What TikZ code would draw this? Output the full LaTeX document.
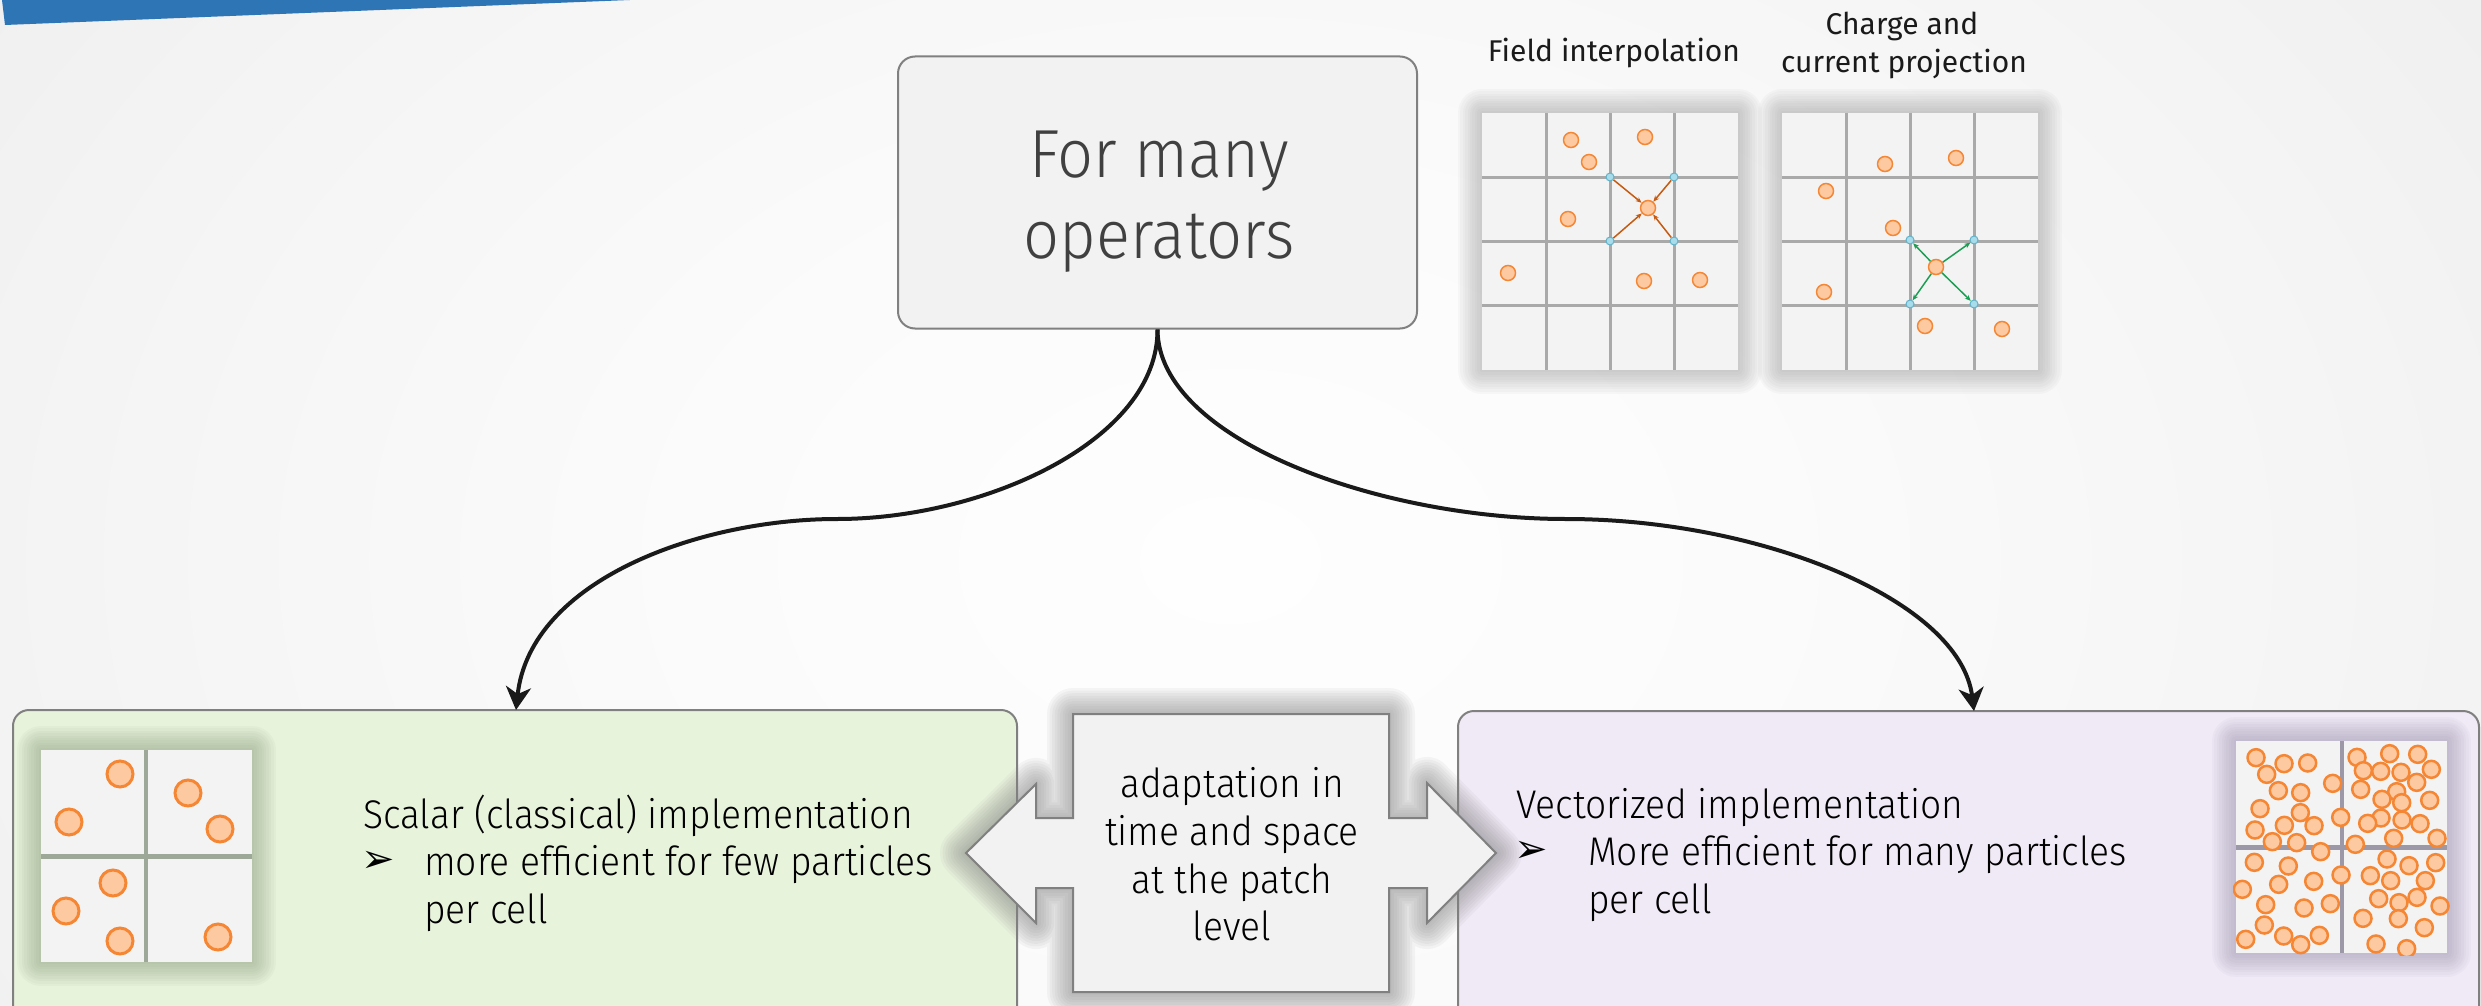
\documentclass[tikz,border=0pt]{standalone}
\usepackage{fontspec}
\setmainfont{Fira Sans Light}[FakeStretch=0.93]
\newfontfamily\capfont{Fira Sans}
\newfontfamily\dingfont{DejaVu Sans}
\usetikzlibrary{arrows.meta}

\definecolor{bg0}{HTML}{FEFEFE}
\definecolor{bg1}{HTML}{FBFBFB}
\definecolor{bg2}{HTML}{F5F5F5}
\definecolor{bg3}{HTML}{EEEEEE}
\definecolor{bg4}{HTML}{E5E5E5}
\definecolor{bg5}{HTML}{E2E2E2}
\definecolor{bandblue}{HTML}{2E75B6}
\definecolor{boxline}{HTML}{808080}
\definecolor{boxfill}{HTML}{F2F2F2}
\definecolor{greenfill}{HTML}{E8F3DC}
\definecolor{violetfill}{HTML}{F0E9F6}
\definecolor{cellfill}{HTML}{F3F3F3}
\definecolor{gridline}{HTML}{A9A9A9}
\definecolor{porange}{HTML}{F58634}
\definecolor{plight}{HTML}{FDC9A1}
\definecolor{nodeblue}{HTML}{A8DCEA}
\definecolor{nodeblueline}{HTML}{62B2C9}
\definecolor{gathercol}{HTML}{C55A11}
\definecolor{depositcol}{HTML}{1E9E55}
\definecolor{curvecol}{HTML}{1A1A1A}
\definecolor{opstext}{HTML}{404040}
\definecolor{greyglow}{HTML}{808080}
\definecolor{greenglow}{HTML}{7F9470}
\definecolor{violetglow}{HTML}{8C84A0}
\definecolor{greensplit}{HTML}{9EA898}
\definecolor{violetsplit}{HTML}{9C98A8}

% soft backdrop, light in the middle, grey at the edges
\pgfdeclareradialshading{backdrop}{\pgfpoint{0bp}{0bp}}{%
  color(0bp)=(bg0); color(8bp)=(bg1); color(16bp)=(bg2);
  color(24bp)=(bg3); color(36bp)=(bg4); color(50bp)=(bg5)}

% blurred halo drawn as stacked translucent strokes along a path
\newcommand\softglow[4]{%
  \foreach \gk in {1,...,10}{%
    \draw[#1, line width={2*#2*\gk/10}, draw opacity=#3, line join=round] #4;}}

\tikzset{
  opsbox/.style={draw=boxline, fill=boxfill, line width=2, rounded corners=17,
    minimum width=519, minimum height=272, inner sep=0},
  greenbox/.style={draw=boxline, fill=greenfill, line width=2, rounded corners=16,
    minimum width=1004, minimum height=330, inner sep=0},
  violetbox/.style={draw=boxline, fill=violetfill, line width=2, rounded corners=16,
    minimum width=1021, minimum height=330, inner sep=0},
  ptsm/.style={circle, draw=porange, fill=plight, line width=1.5, minimum size=15, inner sep=0},
  ptbig/.style={circle, draw=porange, fill=plight, line width=3, minimum size=26, inner sep=0},
  ptvec/.style={draw=porange, fill=plight, line width=2.5},
  gnode/.style={circle, draw=nodeblueline, fill=nodeblue, line width=1, minimum size=8, inner sep=0},
  gather/.style={draw=gathercol, line width=1.5, -{Stealth[length=6,width=5]}},
  deposit/.style={draw=depositcol, line width=1.5, -{Stealth[length=6,width=5]}},
  branch/.style={draw=curvecol, line width=4, -{Stealth[length=23,width=25,inset=7]}},
  bodytext/.style={font=\fontsize{40}{48}\selectfont, inner sep=0, text=black},
  smalltext/.style={font=\capfont\fontsize{30}{38}\selectfont, inner sep=0, text=curvecol},
  bigtext/.style={font=\fontsize{68}{81}\selectfont, inner sep=0, text=opstext},
  bullet/.style={font=\dingfont\fontsize{40}{40}\selectfont, inner sep=0, text=black},
}

\begin{document}
\begin{tikzpicture}[x=1pt, y=-1pt]
\useasboundingbox (0,0) rectangle (2481,1006);

% backdrop
\begin{scope}
  \clip (0,0) rectangle (2481,1006);
  \shade[shading=backdrop] (-470,-640) rectangle (2930,1760);
\end{scope}

% corner band
\fill[bandblue] (2,0) -- (630,0) -- (5,25) -- cycle;

% ---------- field interpolation grid ----------
\softglow{greyglow}{24}{0.045}{(1482,113) rectangle (1738,370)}
\fill[cellfill] (1482,113) rectangle (1738,370);
\foreach \gx in {1546,1610,1674} \draw[gridline, line width=3] (\gx,113) -- (\gx,370);
\foreach \gy in {177,241,305} \draw[gridline, line width=3] (1482,\gy) -- (1738,\gy);
\node[ptsm] (fa1) at (1571,140) {};
\node[ptsm] (fa2) at (1589,162) {};
\node[ptsm] (fa3) at (1645,137) {};
\node[ptsm] (fa4) at (1568,219) {};
\node[ptsm] (fa5) at (1508,273) {};
\node[ptsm] (fa6) at (1644,281) {};
\node[ptsm] (fa7) at (1700,280) {};
\node[ptsm] (fc) at (1648,208) {};
\node[gnode] (fb1) at (1610,177) {};
\node[gnode] (fb2) at (1674,177) {};
\node[gnode] (fb3) at (1610,241) {};
\node[gnode] (fb4) at (1674,241) {};
\foreach \b in {fb1,fb2,fb3,fb4} \draw[gather] (\b) -- (fc);

% ---------- charge and current projection grid ----------
\softglow{greyglow}{24}{0.045}{(1782,113) rectangle (2038,370)}
\fill[cellfill] (1782,113) rectangle (2038,370);
\foreach \gx in {1846,1910,1974} \draw[gridline, line width=3] (\gx,113) -- (\gx,370);
\foreach \gy in {177,241,305} \draw[gridline, line width=3] (1782,\gy) -- (2038,\gy);
\node[ptsm] (cp1) at (1885,164) {};
\node[ptsm] (cp2) at (1956,158) {};
\node[ptsm] (cp3) at (1826,191) {};
\node[ptsm] (cp4) at (1893,228) {};
\node[ptsm] (cp5) at (1824,292) {};
\node[ptsm] (cp6) at (1925,326) {};
\node[ptsm] (cp7) at (2002,329) {};
\node[ptsm] (cc) at (1936,267) {};
\node[gnode] (cb1) at (1910,240) {};
\node[gnode] (cb2) at (1974,240) {};
\node[gnode] (cb3) at (1910,304) {};
\node[gnode] (cb4) at (1974,304) {};
\foreach \b in {cb1,cb2,cb3,cb4} \draw[deposit] (cc) -- (\b);

\node[smalltext, anchor=base] (lblField) at (1614,62) {Field interpolation};
\node[smalltext, anchor=base] (lblCharge) at (1902,35) {Charge and};
\node[smalltext, anchor=base] (lblCurrent) at (1904,73) {current projection};

% ---------- operator box ----------
\node[opsbox] (ops) at (1157.5,192.5) {};
\node[bigtext, anchor=base] (opsA) at (1159,177) {For many};
\node[bigtext, anchor=base] (opsB) at (1159,258) {operators};

% ---------- implementation boxes ----------
\node[greenbox] (scalar) at (515,875) {};
\node[violetbox] (vector) at (1968.5,876) {};

% scalar patch
\softglow{greenglow}{24}{0.055}{(41,750) rectangle (252,962)}
\fill[cellfill] (41,750) rectangle (252,962);
\draw[greensplit, line width=4] (146,750) -- (146,962);
\draw[greensplit, line width=5] (41,856) -- (252,856);
\foreach \px/\py in {120/774, 69/822, 188/793, 220/829, 113/883, 66/911, 120/941, 218/937}
  \node[ptbig] at (\px,\py) {};

% vectorized patch
\softglow{violetglow}{24}{0.05}{(2236,741) rectangle (2447,953)}
\fill[cellfill] (2236,741) rectangle (2447,953);
\draw[violetsplit, line width=4] (2342,741) -- (2342,953);
\draw[violetsplit, line width=5] (2236,847) -- (2447,847);
\begin{scope}
  \clip (2233,738) rectangle (2450,955);
  \foreach \px/\py in {
    93/83, 177/101, 248/99, 125/133, 323/160, 160/182, 227/188, 105/236,
    226/248, 347/262, 178/286, 267/287, 90/300, 142/335, 215/338, 287/365,
    396/82, 494/71, 578/73, 415/122, 467/124, 528/127, 619/118, 575/157,
    407/178, 515/185, 471/208, 614/211, 530/218, 468/264, 428/280, 531/270,
    585/281, 506/325, 636/325, 391/343,
    88/397, 190/408, 348/435, 52/478, 161/463, 266/454, 122/524, 237/534,
    316/521, 118/585, 62/628, 176/618, 227/644, 283/616,
    486/387, 552/407, 632/398, 436/437, 497/452, 601/452, 461/506, 522/518,
    576/502, 645/528, 414/565, 520/566, 598/593, 453/642, 545/656}
    \draw[ptvec] (2225+\px/3, 730+\py/3) circle[radius=8.5];
\end{scope}

% ---------- adaptation double arrow ----------
\softglow{greyglow}{26}{0.065}{(966,853) -- (1036,784) -- (1036,818) -- (1073,818) -- (1073,714)
  -- (1389,714) -- (1389,818) -- (1427,818) -- (1427,783) -- (1496,853) -- (1427,923)
  -- (1427,888) -- (1389,888) -- (1389,992) -- (1073,992) -- (1073,888) -- (1036,888)
  -- (1036,923) -- cycle}
\draw[boxline, fill=boxfill, line width=2, line join=miter]
  (966,853) -- (1036,784) -- (1036,818) -- (1073,818) -- (1073,714)
  -- (1389,714) -- (1389,818) -- (1427,818) -- (1427,783) -- (1496,853) -- (1427,923)
  -- (1427,888) -- (1389,888) -- (1389,992) -- (1073,992) -- (1073,888) -- (1036,888)
  -- (1036,923) -- cycle;
\node[bodytext, anchor=base] (ad1) at (1232,797) {adaptation in};
\node[bodytext, anchor=base] (ad2) at (1232,845) {time and space};
\node[bodytext, anchor=base] (ad3) at (1232,893) {at the patch};
\node[bodytext, anchor=base] (ad4) at (1232,940) {level};

% ---------- box texts ----------
\node[bodytext, anchor=base west] (scTitle) at (363,828) {Scalar (classical) implementation};
\node[bullet] (scBullet) at (378,862) {➢};
\node[bodytext, anchor=base west] (scLine1) at (424,875) {more efficient for few particles};
\node[bodytext, anchor=base west] (scLine2) at (424,923) {per cell};

\node[bodytext, anchor=base west] (vcTitle) at (1516,818) {Vectorized implementation};
\node[bullet] (vcBullet) at (1531,852) {➢};
\node[bodytext, anchor=base west] (vcLine1) at (1588,865) {More efficient for many particles};
\node[bodytext, anchor=base west] (vcLine2) at (1588,913) {per cell};

% ---------- branching connectors ----------
\coordinate (lmid) at (837,519);
\coordinate (ltip) at (516,710);
\coordinate (rmid) at (1566,519);
\coordinate (rtip) at (1974,711);
\draw[branch] (ops.south) .. controls (1158,440) and (985,519) .. (lmid)
  .. controls (700,519) and (530,580) .. (ltip);
\draw[branch] (ops.south) .. controls (1158,440) and (1380,519) .. (rmid)
  .. controls (1760,519) and (1960,600) .. (rtip);
\end{tikzpicture}
\end{document}
